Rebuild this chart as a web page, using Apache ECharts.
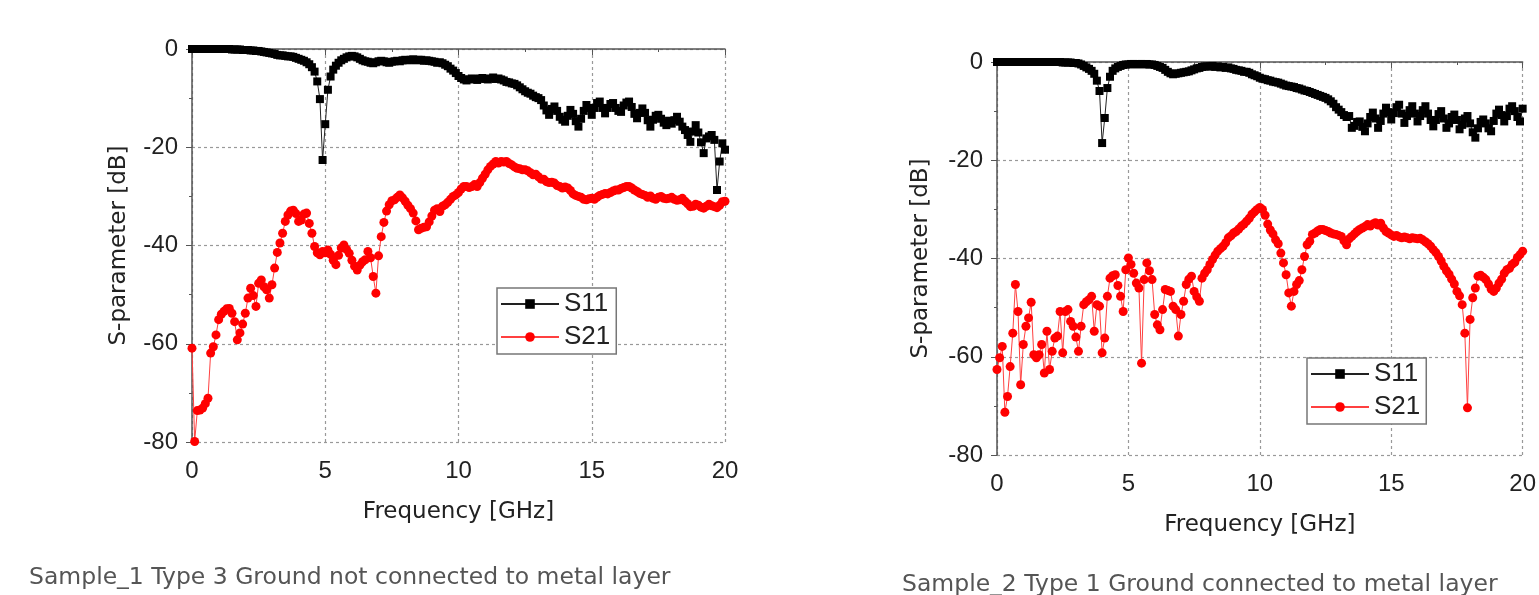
<!DOCTYPE html>
<html>
<head>
<meta charset="utf-8">
<script src="https://cdn.jsdelivr.net/npm/echarts@6/dist/echarts.min.js"></script>
<style>
  html, body { margin: 0; padding: 0; background: #fff; }
  #main { width: 1539px; height: 595px; }
</style>
</head>
<body>
<div id="main"></div>
<script>
// frequency sweep points [GHz]
var freq = [
  0,0.1,0.2,0.3,0.4,0.5,0.6,0.7,0.8,0.9,
  1,1.1,1.2,1.3,1.4,1.5,1.6,1.7,1.8,1.9,
  2,2.1,2.2,2.3,2.4,2.5,2.6,2.7,2.8,2.9,
  3,3.1,3.2,3.3,3.4,3.5,3.6,3.7,3.8,3.9,
  4,4.1,4.2,4.3,4.4,4.5,4.6,4.7,4.8,4.9,
  5,5.1,5.2,5.3,5.4,5.5,5.6,5.7,5.8,5.9,
  6,6.1,6.2,6.3,6.4,6.5,6.6,6.7,6.8,6.9,
  7,7.1,7.2,7.3,7.4,7.5,7.6,7.7,7.8,7.9,
  8,8.1,8.2,8.3,8.4,8.5,8.6,8.7,8.8,8.9,
  9,9.1,9.2,9.3,9.4,9.5,9.6,9.7,9.8,9.9,
  10,10.1,10.2,10.3,10.4,10.5,10.6,10.7,10.8,10.9,
  11,11.1,11.2,11.3,11.4,11.5,11.6,11.7,11.8,11.9,
  12,12.1,12.2,12.3,12.4,12.5,12.6,12.7,12.8,12.9,
  13,13.1,13.2,13.3,13.4,13.5,13.6,13.7,13.8,13.9,
  14,14.1,14.2,14.3,14.4,14.5,14.6,14.7,14.8,14.9,
  15,15.1,15.2,15.3,15.4,15.5,15.6,15.7,15.8,15.9,
  16,16.1,16.2,16.3,16.4,16.5,16.6,16.7,16.8,16.9,
  17,17.1,17.2,17.3,17.4,17.5,17.6,17.7,17.8,17.9,
  18,18.1,18.2,18.3,18.4,18.5,18.6,18.7,18.8,18.9,
  19,19.1,19.2,19.3,19.4,19.5,19.6,19.7,19.8,19.9,
  20
];

// Sample_1 (left)
var s11_sample1 = [
  0,0,0,0,0,0,0,0,0,0,
  0,0,0,0,0,-0.1,-0.1,-0.1,-0.1,-0.2,
  -0.2,-0.2,-0.3,-0.3,-0.4,-0.4,-0.5,-0.6,-0.7,-0.8,
  -0.9,-1.0,-1.2,-1.3,-1.3,-1.4,-1.5,-1.5,-1.6,-1.8,
  -2.0,-2.2,-2.4,-2.7,-3.1,-3.7,-4.6,-6.6,-10.2,-22.6,
  -15.3,-8.3,-5.6,-4.2,-3.4,-2.8,-2.3,-2.0,-1.7,-1.5,
  -1.4,-1.5,-1.7,-2.0,-2.3,-2.5,-2.6,-2.8,-2.9,-2.7,
  -2.5,-2.4,-2.5,-2.7,-2.8,-2.6,-2.5,-2.4,-2.5,-2.3,
  -2.2,-2.3,-2.2,-2.1,-2.3,-2.2,-2.2,-2.4,-2.3,-2.4,
  -2.5,-2.6,-2.8,-2.7,-2.9,-3.2,-3.5,-4.0,-4.4,-4.9,
  -5.5,-5.9,-6.2,-6.4,-6.2,-6.0,-6.1,-6.3,-6.0,-5.9,
  -6.1,-6.2,-6.0,-5.8,-6.1,-6.0,-6.2,-6.4,-6.7,-6.8,
  -7.0,-7.1,-7.4,-7.8,-8.2,-8.6,-8.9,-9.1,-9.5,-9.8,
  -10.0,-10.4,-11.5,-12.5,-13.4,-12.2,-11.7,-12.6,-13.8,-14.4,
  -14.8,-13.6,-12.4,-13.2,-14.7,-15.8,-14.2,-12.6,-11.4,-12.0,
  -13.4,-12.0,-11.0,-10.7,-12.0,-13.1,-12.0,-11.2,-11.0,-12.0,
  -12.6,-12.8,-11.5,-10.9,-10.7,-11.8,-13.2,-14.1,-13.0,-12.1,
  -13.0,-14.5,-15.8,-14.4,-13.6,-13.4,-14.2,-15.0,-15.5,-14.6,
  -15.2,-14.5,-13.8,-14.8,-15.8,-16.5,-17.5,-18.9,-16.8,-15.5,
  -17.0,-19.0,-21.2,-18.2,-17.8,-17.5,-18.5,-28.7,-22.9,-19.2,
  -20.5
];
var s21_sample1 = [
  -60.9,-79.9,-73.6,-73.5,-73.1,-72.2,-71.1,-61.9,-60.6,-58.2,
  -55.1,-54.0,-53.4,-52.9,-52.8,-53.8,-55.5,-59.2,-57.8,-56.0,
  -53.8,-50.7,-48.7,-50.2,-52.4,-47.7,-47.0,-48.4,-49.0,-50.7,
  -48.0,-44.6,-41.4,-39.5,-37.5,-35.1,-33.8,-33.0,-32.8,-33.5,
  -35.1,-34.8,-33.6,-33.4,-35.5,-37.5,-40.2,-41.5,-41.9,-41.2,
  -41.5,-40.9,-41.8,-43.0,-43.9,-42.0,-40.5,-39.9,-40.8,-41.6,
  -43.0,-44.2,-45.0,-44.0,-43.3,-42.9,-41.2,-42.5,-46.3,-49.7,
  -42.1,-38.2,-35.3,-33.0,-31.7,-30.9,-30.7,-30.2,-29.7,-30.3,
  -31.0,-31.8,-32.5,-33.4,-35.0,-36.8,-36.5,-36.3,-36.2,-35.2,
  -34.0,-32.8,-32.5,-33.1,-32.0,-31.7,-31.2,-30.6,-30.0,-29.7,
  -29.2,-28.5,-28.0,-28.0,-28.2,-28.0,-27.6,-28.0,-27.2,-26.3,
  -25.5,-24.6,-23.9,-23.4,-22.9,-23.2,-22.9,-23.0,-22.9,-23.3,
  -23.6,-24.0,-24.3,-24.4,-24.6,-24.6,-24.8,-25.2,-25.6,-25.5,
  -26.0,-26.5,-26.5,-27.0,-27.2,-27.1,-27.3,-27.8,-28.0,-28.3,
  -28.1,-28.3,-28.8,-29.5,-29.8,-30.0,-30.2,-30.6,-30.7,-30.5,
  -30.4,-30.6,-30.2,-29.8,-29.6,-29.4,-29.5,-29.2,-28.9,-28.7,
  -28.7,-28.4,-28.2,-28.0,-28.0,-28.3,-28.7,-29.0,-29.4,-29.6,
  -29.8,-30.2,-29.9,-30.4,-30.6,-30.2,-30.0,-30.4,-30.5,-30.4,
  -30.2,-30.6,-30.8,-30.7,-30.4,-31.0,-31.5,-32.1,-32.0,-31.6,
  -31.8,-32.2,-32.4,-32.0,-31.6,-31.9,-32.1,-32.3,-31.8,-31.1,
  -31.0
];

// Sample_2 (right)
var s11_sample2 = [
  0,0,0,0,0,0,0,0,0,0,
  0,0,0,0,0,0,0,0,0,0,
  0,0,0,0,0,-0.1,-0.1,-0.1,-0.1,-0.2,
  -0.2,-0.3,-0.5,-0.8,-1.1,-1.4,-1.8,-2.4,-3.8,-5.9,
  -16.5,-11.4,-5.3,-3.0,-1.8,-1.3,-1.0,-0.8,-0.6,-0.5,
  -0.5,-0.4,-0.4,-0.5,-0.4,-0.4,-0.5,-0.4,-0.5,-0.5,
  -0.6,-0.8,-1.0,-1.2,-1.6,-2.0,-2.3,-2.5,-2.4,-2.3,
  -2.2,-2.1,-2.0,-1.9,-1.7,-1.5,-1.3,-1.2,-1.0,-0.9,
  -0.9,-0.9,-0.8,-1.0,-0.9,-1.1,-1.0,-1.2,-1.1,-1.3,
  -1.4,-1.6,-1.7,-1.8,-2.0,-2.0,-2.2,-2.5,-2.7,-2.9,
  -3.2,-3.4,-3.5,-3.7,-3.8,-4.0,-4.1,-4.2,-4.4,-4.6,
  -4.8,-4.9,-5.0,-5.1,-5.3,-5.4,-5.6,-5.8,-5.9,-6.1,
  -6.3,-6.5,-6.7,-6.9,-7.1,-7.3,-7.6,-8.0,-8.5,-9.2,
  -9.7,-10.2,-10.8,-11.2,-11.0,-13.4,-13.0,-12.2,-12.1,-13.2,
  -14.1,-12.5,-11.2,-10.3,-11.5,-13.4,-12.0,-10.5,-9.3,-10.2,
  -11.7,-10.4,-9.2,-8.7,-10.5,-12.4,-11.0,-9.8,-9.0,-10.5,
  -12.1,-11.0,-9.8,-9.0,-10.5,-11.8,-13.1,-11.8,-10.6,-10.0,
  -11.5,-13.4,-12.5,-11.2,-10.7,-11.8,-13.7,-12.8,-11.5,-11.0,
  -12.5,-14.3,-15.4,-13.5,-12.2,-11.7,-12.5,-13.5,-14.1,-12.0,
  -10.5,-9.7,-10.8,-12.1,-11.0,-9.5,-9.0,-10.0,-11.2,-12.1,
  -9.5
];
var s21_sample2 = [
  -62.6,-60.2,-57.9,-71.3,-68.1,-62.0,-55.2,-45.3,-50.8,-65.7,
  -57.5,-53.8,-52.1,-48.9,-59.6,-60.2,-59.6,-57.5,-63.3,-54.8,
  -62.6,-58.9,-56.2,-55.8,-50.8,-59.2,-50.8,-50.4,-52.8,-53.8,
  -56.0,-58.9,-53.8,-49.4,-48.8,-48.4,-47.7,-54.8,-49.4,-49.7,
  -59.2,-56.2,-47.7,-44.0,-43.5,-43.3,-45.5,-47.7,-50.8,-42.3,
  -39.9,-41.2,-43.0,-45.0,-46.0,-61.3,-44.3,-40.9,-42.5,-44.3,
  -51.4,-53.5,-54.5,-50.4,-46.3,-46.5,-46.7,-49.7,-50.4,-55.8,
  -51.4,-48.7,-45.3,-44.2,-43.6,-46.7,-47.8,-48.7,-44.0,-43.0,
  -42.3,-41.2,-40.2,-39.3,-38.5,-38.0,-37.5,-36.8,-35.8,-35.4,
  -34.8,-34.5,-34.0,-33.4,-33.0,-32.4,-31.8,-31.0,-30.5,-30.0,
  -29.6,-30.0,-31.2,-33.0,-34.2,-35.0,-36.2,-37.0,-38.9,-40.9,
  -43.3,-47.0,-49.7,-46.7,-45.3,-44.5,-42.3,-39.6,-37.2,-36.5,
  -35.1,-34.8,-34.4,-34.1,-34.1,-34.3,-34.5,-34.8,-35.0,-35.1,
  -35.3,-35.5,-36.4,-37.2,-36.0,-35.5,-35.0,-34.5,-34.1,-33.8,
  -33.5,-33.1,-33.4,-33.0,-32.7,-33.2,-32.8,-33.8,-34.5,-34.8,
  -35.2,-35.5,-35.3,-35.6,-35.8,-35.6,-35.8,-36.0,-35.8,-35.9,
  -36.0,-35.9,-36.2,-36.6,-37.0,-37.5,-38.2,-38.8,-39.6,-40.5,
  -41.6,-42.5,-43.2,-44.2,-45.2,-46.7,-47.6,-49.4,-55.2,-70.4,
  -52.4,-48.0,-46.0,-43.6,-43.4,-43.8,-44.3,-45.2,-46.2,-46.7,
  -46.0,-45.0,-44.2,-43.0,-42.3,-42.0,-41.2,-40.8,-39.8,-39.2,
  -38.5
];

var captions = [
  'Sample_1 Type 3 Ground not connected to metal layer',
  'Sample_2 Type 1 Ground connected to metal layer'
];

function pairs(vals) {
  return vals.map(function (v, i) { return [freq[i], v]; });
}

var axisCol = '#555';
var labelFont = { fontFamily: 'Liberation Sans', fontSize: 24, color: '#222' };
var nameFont = { fontFamily: 'DejaVu Sans', fontSize: 23, color: '#222' };

function xAx(idx, gap) {
  return {
    gridIndex: idx, type: 'value', min: 0, max: 20, interval: 5,
    name: 'Frequency [GHz]', nameLocation: 'middle', nameGap: gap,
    nameTextStyle: nameFont,
    axisLine: { show: true, lineStyle: { color: axisCol, width: 1.5 } },
    axisTick: { show: true, inside: false, length: 6, lineStyle: { color: axisCol } },
    minorTick: { show: true, splitNumber: 2, length: 3, lineStyle: { color: axisCol } },
    axisLabel: Object.assign({ margin: 17 }, labelFont),
    splitLine: { show: true, lineStyle: { color: '#999', type: [3, 3], width: 1.2 } }
  };
}
function yAx(idx, gap) {
  return {
    gridIndex: idx, type: 'value', min: -80, max: 0, interval: 20,
    name: 'S-parameter [dB]', nameLocation: 'middle', nameGap: gap, nameRotate: 90,
    nameTextStyle: nameFont,
    axisLine: { show: true, onZero: false, lineStyle: { color: axisCol, width: 1.5 } },
    axisTick: { show: true, inside: false, length: 6, lineStyle: { color: axisCol } },
    minorTick: { show: true, splitNumber: 2, length: 3, lineStyle: { color: axisCol } },
    axisLabel: Object.assign({ margin: 14 }, labelFont),
    splitLine: { show: true, lineStyle: { color: '#999', type: [3, 3], width: 1.2 } }
  };
}
function s11(idx, vals) {
  return {
    name: 'S11', type: 'line', xAxisIndex: idx, yAxisIndex: idx,
    data: pairs(vals), symbol: 'rect', symbolSize: 8, showAllSymbol: true,
    itemStyle: { color: '#000' }, lineStyle: { color: '#222', width: 1 }
  };
}
function s21(idx, vals) {
  return {
    name: 'S21', type: 'line', xAxisIndex: idx, yAxisIndex: idx,
    data: pairs(vals), symbol: 'circle', symbolSize: 9, showAllSymbol: true,
    itemStyle: { color: '#ff0000' }, lineStyle: { color: '#ff4040', width: 1 }
  };
}
function legend(left, top) {
  return {
    orient: 'vertical', left: left, top: top, data: ['S11', 'S21'],
    padding: [3, 6, 4, 3], itemWidth: 58, itemHeight: 12, itemGap: 7,
    borderColor: '#777', borderWidth: 1.5, backgroundColor: '#fff',
    textStyle: { fontFamily: 'Liberation Sans', fontSize: 26, color: '#222', lineHeight: 26 }
  };
}

var chart = echarts.init(document.getElementById('main'));
chart.setOption({
  animation: false,
  backgroundColor: '#fff',
  grid: [
    { left: 192, top: 49, width: 533, height: 393 },
    { left: 997, top: 62, width: 531, height: 393 }
  ],
  xAxis: [xAx(0, 59), xAx(1, 59)],
  yAxis: [yAx(0, 61), yAx(1, 64)],
  legend: [legend(497, 288), legend(1307, 358)],
  series: [
    s11(0, s11_sample1), s21(0, s21_sample1),
    s11(1, s11_sample2), s21(1, s21_sample2)
  ],
  graphic: [
    { type: 'text', left: 29, top: 566,
      style: { text: captions[0], fontFamily: 'DejaVu Sans', fontSize: 23.5, fill: '#555' } },
    { type: 'text', left: 902, top: 573,
      style: { text: captions[1], fontFamily: 'DejaVu Sans', fontSize: 23.5, fill: '#555' } }
  ]
});
</script>
</body>
</html>
